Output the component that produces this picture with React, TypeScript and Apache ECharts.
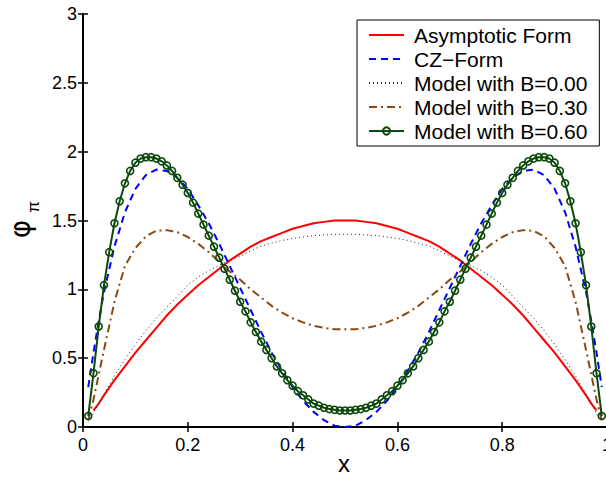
import React, { useEffect, useRef } from "react";
import * as echarts from "echarts";

const FONT = "'Liberation Sans', Arial, Helvetica, sans-serif";

// x grid for the smooth curves
const X = [
  0.01, 0.02, 0.03, 0.04, 0.06, 0.08, 0.1, 0.12, 0.14, 0.16, 0.18, 0.2, 0.22, 0.24, 0.26, 0.28, 0.3,
  0.32, 0.34, 0.36, 0.38, 0.4, 0.42, 0.44, 0.46, 0.48, 0.5, 0.52, 0.54, 0.56, 0.58, 0.6, 0.62, 0.64,
  0.66, 0.68, 0.7, 0.72, 0.74, 0.76, 0.78, 0.8, 0.82, 0.84, 0.86, 0.88, 0.9, 0.92, 0.94, 0.96, 0.97,
  0.98, 0.99,
];

const ASYMPTOTIC = [
  null, 0.12, 0.17, 0.23, 0.34, 0.44, 0.54, 0.63, 0.72, 0.81, 0.89, 0.96, 1.03, 1.09, 1.15, 1.21, 1.26,
  1.31, 1.35, 1.38, 1.41, 1.44, 1.46, 1.48, 1.49, 1.5, 1.5,
  1.5, 1.49, 1.48, 1.46, 1.44, 1.41, 1.38, 1.35, 1.31, 1.26, 1.21, 1.15, 1.09, 1.03, 0.96, 0.89, 0.81,
  0.72, 0.63, 0.54, 0.44, 0.34, 0.23, 0.17, 0.12, null,
];

const CZ = [
  0.29, 0.54, 0.77, 0.98, 1.31, 1.56, 1.73, 1.83, 1.87, 1.86, 1.81, 1.73, 1.61, 1.48, 1.33, 1.17, 1.01,
  0.85, 0.69, 0.54, 0.41, 0.29, 0.19, 0.11, 0.05, 0.01, 0.0,
  0.01, 0.05, 0.11, 0.19, 0.29, 0.41, 0.54, 0.69, 0.85, 1.01, 1.17, 1.33, 1.48, 1.61, 1.73, 1.81, 1.86,
  1.87, 1.83, 1.73, 1.56, 1.31, 0.98, 0.77, 0.54, 0.29,
];

const B000 = [
  0.04, 0.1, 0.17, 0.24, 0.37, 0.49, 0.6, 0.7, 0.79, 0.87, 0.95, 1.03, 1.09, 1.135, 1.175, 1.21, 1.24,
  1.28, 1.315, 1.335, 1.355, 1.37, 1.38, 1.39, 1.395, 1.4, 1.4,
  1.4, 1.395, 1.39, 1.38, 1.37, 1.355, 1.335, 1.315, 1.28, 1.24, 1.21, 1.175, 1.135, 1.09, 1.03, 0.95,
  0.87, 0.79, 0.7, 0.6, 0.49, 0.37, 0.24, 0.17, 0.1, 0.04,
];

const B030 = [
  0.05, 0.2, 0.38, 0.56, 0.91, 1.17, 1.3, 1.385, 1.425, 1.43, 1.415, 1.38, 1.33, 1.27, 1.2, 1.13, 1.07,
  1.0, 0.94, 0.88, 0.83, 0.79, 0.76, 0.735, 0.72, 0.71, 0.71,
  0.71, 0.72, 0.735, 0.76, 0.79, 0.83, 0.88, 0.94, 1.0, 1.07, 1.13, 1.2, 1.27, 1.33, 1.38, 1.415, 1.43,
  1.425, 1.385, 1.3, 1.17, 0.91, 0.56, 0.38, 0.2, 0.05,
];

// B=0.60 sampled at x = 0.01 ... 0.99
const B060 = [
  0.08, 0.39, 0.73, 1.03, 1.27, 1.48, 1.64, 1.77, 1.86, 1.92,
  1.95, 1.96, 1.96, 1.95, 1.93, 1.9, 1.86, 1.81, 1.76, 1.7,
  1.63, 1.55, 1.47, 1.39, 1.31, 1.23, 1.15, 1.07, 0.99, 0.91,
  0.84, 0.76, 0.69, 0.62, 0.56, 0.5, 0.44, 0.39, 0.34, 0.3,
  0.26, 0.23, 0.2, 0.17, 0.155, 0.14, 0.13, 0.125, 0.12, 0.12,
  0.12, 0.125, 0.13, 0.14, 0.155, 0.17, 0.2, 0.23, 0.26, 0.3,
  0.34, 0.39, 0.44, 0.5, 0.56, 0.62, 0.69, 0.76, 0.84, 0.91,
  0.99, 1.07, 1.15, 1.23, 1.31, 1.39, 1.47, 1.55, 1.63, 1.7,
  1.76, 1.81, 1.86, 1.9, 1.93, 1.95, 1.96, 1.96, 1.95, 1.92,
  1.86, 1.77, 1.64, 1.48, 1.27, 1.03, 0.73, 0.39, 0.08,
];
const GX = B060.map((_, i) => (i + 1) / 100);

const NAMES = [
  "Asymptotic Form",
  "CZ\u2212Form",
  "Model with B=0.00",
  "Model with B=0.30",
  "Model with B=0.60",
];

const pairs = (xs: number[], ys: (number | null)[]) => xs.map((x, i) => [x, ys[i]]);

export default function App() {
  const ref = useRef<HTMLDivElement>(null);
  useEffect(() => {
    if (!ref.current) return;
    const chart = echarts.init(ref.current, undefined, { renderer: "svg" });
    const green = "#0b4a0b";
    const axisCommon = {
      axisLine: { show: true, lineStyle: { color: "#000", width: 2 } },
      axisTick: { show: true, inside: true, length: 5, lineStyle: { color: "#000", width: 1.5 } },
      splitLine: { show: false },
    };
    chart.setOption({
      animation: false,
      backgroundColor: "#fff",
      textStyle: { fontFamily: FONT },
      grid: { left: 83, top: 14, width: 524, height: 413, containLabel: false, outerBoundsMode: "none" },
      xAxis: [
        {
          type: "value", min: 0, max: 1, interval: 0.2, position: "bottom",
          ...axisCommon,
          axisLabel: { color: "#000", fontSize: 18, fontFamily: FONT, margin: 9 },
        },
        {
          type: "value", min: 0, max: 1, interval: 0.2, position: "top",
          ...axisCommon, axisLabel: { show: false },
        },
      ],
      yAxis: [
        {
          type: "value", min: 0, max: 3, interval: 0.5, position: "left",
          ...axisCommon,
          axisLabel: { color: "#000", fontSize: 18, fontFamily: FONT, margin: 6 },
        },
        {
          type: "value", min: 0, max: 3, interval: 0.5, position: "right",
          ...axisCommon, axisLabel: { show: false },
        },
      ],
      legend: {
        left: 357, top: 20, orient: "vertical",
        itemWidth: 35, itemHeight: 9, itemGap: 0,
        padding: [3, 12, 3, 11],
        borderColor: "#000", borderWidth: 1, backgroundColor: "#fff", borderRadius: 0,
        textStyle: { fontFamily: FONT, fontSize: 21, color: "#000", lineHeight: 24, padding: [0, 0, 0, 5] },
        data: [
          { name: NAMES[0], itemStyle: { opacity: 0 } },
          { name: NAMES[1], itemStyle: { opacity: 0 } },
          { name: NAMES[2], itemStyle: { opacity: 0 } },
          { name: NAMES[3], itemStyle: { opacity: 0 } },
          { name: NAMES[4] },
        ],
      },
      graphic: [
        {
          type: "text", x: 344, y: 463,
          style: { text: "x", fontSize: 24, fontFamily: FONT, fill: "#000", textAlign: "center", textVerticalAlign: "middle" },
        },
        {
          type: "text", x: 20, y: 229, rotation: Math.PI / 2,
          style: { text: "\u03c6", fontSize: 28, fontFamily: "'DejaVu Sans', sans-serif", fill: "#000", textAlign: "center", textVerticalAlign: "middle" },
        },
        {
          type: "text", x: 33, y: 207, rotation: Math.PI / 2,
          style: { text: "\u03c0", fontSize: 17, fontFamily: FONT, fill: "#000", textAlign: "center", textVerticalAlign: "middle" },
        },
      ],
      series: [
        {
          name: NAMES[0], type: "line", data: pairs(X, ASYMPTOTIC), symbol: "none", showSymbol: false,
          lineStyle: { color: "#ff0000", width: 2 }, itemStyle: { color: "#ff0000" },
        },
        {
          name: NAMES[1], type: "line", data: pairs(X, CZ), symbol: "none", showSymbol: false,
          lineStyle: { color: "#0000ff", width: 2, type: [7, 5] }, itemStyle: { color: "#0000ff" },
        },
        {
          name: NAMES[2], type: "line", data: pairs(X, B000), symbol: "none", showSymbol: false,
          lineStyle: { color: "#222", width: 1, type: [1, 3] }, itemStyle: { color: "#222" },
        },
        {
          name: NAMES[3], type: "line", data: pairs(X, B030), symbol: "none", showSymbol: false,
          lineStyle: { color: "#8b4a14", width: 2, type: [8, 4, 2, 4] }, itemStyle: { color: "#8b4a14" },
        },
        {
          name: NAMES[4], type: "line", data: pairs(GX, B060), symbol: "circle", symbolSize: 7, showSymbol: true,
          lineStyle: { color: green, width: 2 },
          itemStyle: { color: "rgba(0,0,0,0)", borderColor: green, borderWidth: 1.6 },
        },
      ],
    });
    return () => chart.dispose();
  }, []);
  return (
    <div
      ref={ref}
      style={{ position: "absolute", left: 0, top: 0, width: 606, height: 479 }}
    />
  );
}
